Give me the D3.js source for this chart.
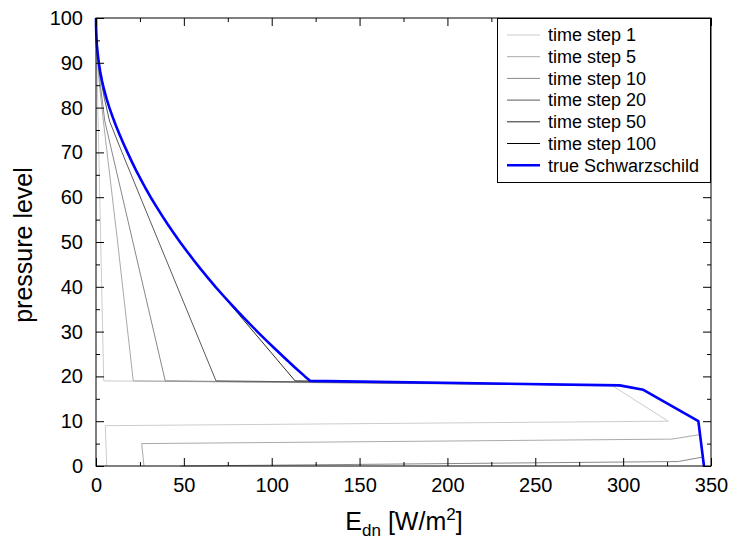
<!DOCTYPE html>
<html><head><meta charset="utf-8">
<script src="https://cdn.jsdelivr.net/npm/d3@7/dist/d3.min.js"></script>
<style>body{margin:0;background:#fff}svg{display:block}text{font-family:"Liberation Sans",Arial,Helvetica,sans-serif}</style>
</head><body>
<svg id="c" width="729" height="546"></svg>
<script>
// Tick labels
const xTicks = [0, 50, 100, 150, 200, 250, 300, 350];
const yTicks = [0, 10, 20, 30, 40, 50, 60, 70, 80, 90, 100];
const seriesNames = ["time step 1", "time step 5", "time step 10", "time step 20", "time step 50", "time step 100", "true Schwarzschild"];

// Each series: pressure levels and E_dn values (W/m^2)
const ts1Level = [100, 90, 19, 18, 10, 9, 0];
const ts1E     = [0, 0.5, 4.4, 293.5, 325.7, 5.3, 6.1];

const ts5Level = [100, 92, 85, 77, 50, 19, 18, 17, 10, 7, 6, 5, 0];
const ts5E     = [0, 0.5, 2, 4.2, 12.3, 21.2, 298, 311.5, 342.8, 343.6, 327.6, 26, 27.3];

const ts10Level = [100, 92, 85, 77, 50, 19, 18, 17, 10, 2, 1, 0];
const ts10E     = [0, 0.8, 2.5, 5, 21, 39.4, 298, 311.5, 342.8, 345.4, 331.4, 48];

const ts20Level = [100, 94, 88, 82, 77, 70, 59, 19, 18, 17, 10, 0];
const ts20E     = [0, 0.5, 2, 4.8, 7.7, 14.8, 26.3, 68.3, 298, 311.5, 342.8, 346];

const ts50Level = [100, 98, 96, 94, 92, 90, 88, 86, 84, 82, 80, 78, 76, 74, 72, 70, 68, 66, 64, 62, 60, 58, 56, 54, 52, 50, 48, 46, 44, 42, 41, 19, 18, 17, 10, 0];
const ts50E     = [0, 0.05, 0.2, 0.5, 1.0, 1.6, 2.4, 3.4, 4.6, 6.0, 7.6, 9.4, 11.3, 13.4, 15.6, 17.9, 20.3, 22.8, 25.5, 28.2, 31.1, 34.2, 37.4, 40.7, 44.2, 47.8, 51.6, 55.5, 59.5, 63.7, 65.8, 113.3, 298, 311.5, 342.8, 346];

const ts100Level = [100, 98, 96, 94, 92, 90, 88, 86, 84, 82, 80, 78, 76, 74, 72, 70, 68, 66, 64, 62, 60, 58, 56, 54, 52, 50, 48, 46, 44, 42, 40, 38, 36, 34, 32, 30, 28, 26, 24, 22, 20, 19, 18, 17, 10, 0];
const ts100E     = [0, 0.05, 0.2, 0.5, 1.0, 1.6, 2.4, 3.4, 4.6, 6.0, 7.6, 9.4, 11.3, 13.4, 15.6, 17.9, 20.3, 22.8, 25.5, 28.2, 31.1, 34.2, 37.4, 40.7, 44.2, 47.8, 51.6, 55.5, 59.5, 63.7, 68.0, 72.5, 77.1, 81.9, 86.8, 91.8, 97.0, 102.3, 107.7, 113.2, 118.9, 121.8, 298, 311.5, 342.8, 346];

const trueLevel = [100, 98, 96, 94, 92, 90, 88, 86, 84, 82, 80, 78, 76, 74, 72, 70, 68, 66, 64, 62, 60, 58, 56, 54, 52, 50, 48, 46, 44, 42, 40, 38, 36, 34, 32, 30, 28, 26, 24, 22, 20, 19, 18, 17, 10, 0];
const trueE     = [0, 0.05, 0.2, 0.5, 1.0, 1.6, 2.4, 3.4, 4.6, 6.0, 7.6, 9.4, 11.3, 13.4, 15.6, 17.9, 20.3, 22.8, 25.5, 28.2, 31.1, 34.2, 37.4, 40.7, 44.2, 47.8, 51.6, 55.5, 59.5, 63.7, 68.0, 72.5, 77.1, 81.9, 86.8, 91.8, 97.0, 102.3, 107.7, 113.2, 118.9, 122.0, 298, 311.5, 342.8, 346];

const colors = ["#cccccc", "#aaaaaa", "#888888", "#5a5a5a", "#2a2a2a", "#000000", "#0000ff"];
const widths = [1, 1, 1, 1, 1, 1, 2.6];

const series = [
  [ts1E, ts1Level], [ts5E, ts5Level], [ts10E, ts10Level], [ts20E, ts20Level],
  [ts50E, ts50Level], [ts100E, ts100Level], [trueE, trueLevel]
].map((d, i) => ({name: seriesNames[i], pts: d[0].map((e, j) => [e, d[1][j]]), color: colors[i], width: widths[i]}));

const svg = d3.select("#c");
const L = 96, R = 711, T = 18, B = 466;
const x = d3.scaleLinear().domain([0, 350]).range([L, R]);
const y = d3.scaleLinear().domain([0, 100]).range([B, T]);

const line = d3.line().x(d => x(d[0])).y(d => y(d[1]));
const g = svg.append("g");
series.forEach(s => {
  g.append("path").attr("d", line(s.pts)).attr("fill", "none")
   .attr("stroke", s.color).attr("stroke-width", s.width).attr("stroke-linejoin", "round");
});

const xMinor = d3.range(25, 350, 50);
const yMinor = d3.range(5, 100, 10);

function styleAxis(sel) {
  sel.select(".domain").remove();
  sel.selectAll("line").attr("stroke", "#000");
  sel.selectAll("text").attr("font-size", 20).attr("fill", "#000").attr("font-family", "Liberation Sans, Arial, sans-serif");
}
svg.append("g").attr("transform", `translate(0,${B})`)
  .call(d3.axisBottom(x).tickValues(xTicks).tickSize(-8).tickPadding(12).tickFormat(d3.format("d"))).call(styleAxis);
svg.append("g").attr("transform", `translate(0,${B})`)
  .call(d3.axisBottom(x).tickValues(xMinor).tickSize(-4).tickFormat("")).call(styleAxis);
svg.append("g").attr("transform", `translate(0,${T})`)
  .call(d3.axisTop(x).tickValues(xTicks).tickSize(-8).tickFormat("")).call(styleAxis);
svg.append("g").attr("transform", `translate(0,${T})`)
  .call(d3.axisTop(x).tickValues(xMinor).tickSize(-4).tickFormat("")).call(styleAxis);
svg.append("g").attr("transform", `translate(${L},0)`)
  .call(d3.axisLeft(y).tickValues(yTicks).tickSize(-8).tickPadding(13).tickFormat(d3.format("d"))).call(styleAxis);
svg.append("g").attr("transform", `translate(${L},0)`)
  .call(d3.axisLeft(y).tickValues(yMinor).tickSize(-4).tickFormat("")).call(styleAxis);
svg.append("g").attr("transform", `translate(${R},0)`)
  .call(d3.axisRight(y).tickValues(yTicks).tickSize(-8).tickFormat("")).call(styleAxis);
svg.append("g").attr("transform", `translate(${R},0)`)
  .call(d3.axisRight(y).tickValues(yMinor).tickSize(-4).tickFormat("")).call(styleAxis);

svg.append("rect").attr("x", L).attr("y", T).attr("width", R - L).attr("height", B - T)
  .attr("fill", "none").attr("stroke", "#000").attr("stroke-width", 1);

// Legend
const lg = svg.append("g");
lg.append("rect").attr("x", 497.5).attr("y", 18.5).attr("width", 213).attr("height", 164)
  .attr("fill", "#fff").attr("stroke", "#000").attr("stroke-width", 1);
series.forEach((s, i) => {
  const yy = 35 + i * 21.7;
  lg.append("line").attr("x1", 507).attr("x2", 540).attr("y1", yy).attr("y2", yy)
    .attr("stroke", s.color).attr("stroke-width", s.width);
  lg.append("text").attr("x", 548).attr("y", yy).attr("dy", "0.35em").attr("font-size", 18).text(s.name);
});

// Axis titles
svg.append("text").attr("transform", "translate(32,245) rotate(-90)").attr("text-anchor", "middle")
  .attr("font-size", 25).text("pressure level");
const xt = svg.append("text").attr("x", 404).attr("y", 530).attr("text-anchor", "middle").attr("font-size", 25);
xt.append("tspan").text("E");
xt.append("tspan").attr("font-size", 17).attr("dy", 6).text("dn");
xt.append("tspan").attr("dy", -6).text(" [W/m");
xt.append("tspan").attr("font-size", 17).attr("dy", -10).text("2");
xt.append("tspan").attr("dy", 10).text("]");
</script>
</body></html>
